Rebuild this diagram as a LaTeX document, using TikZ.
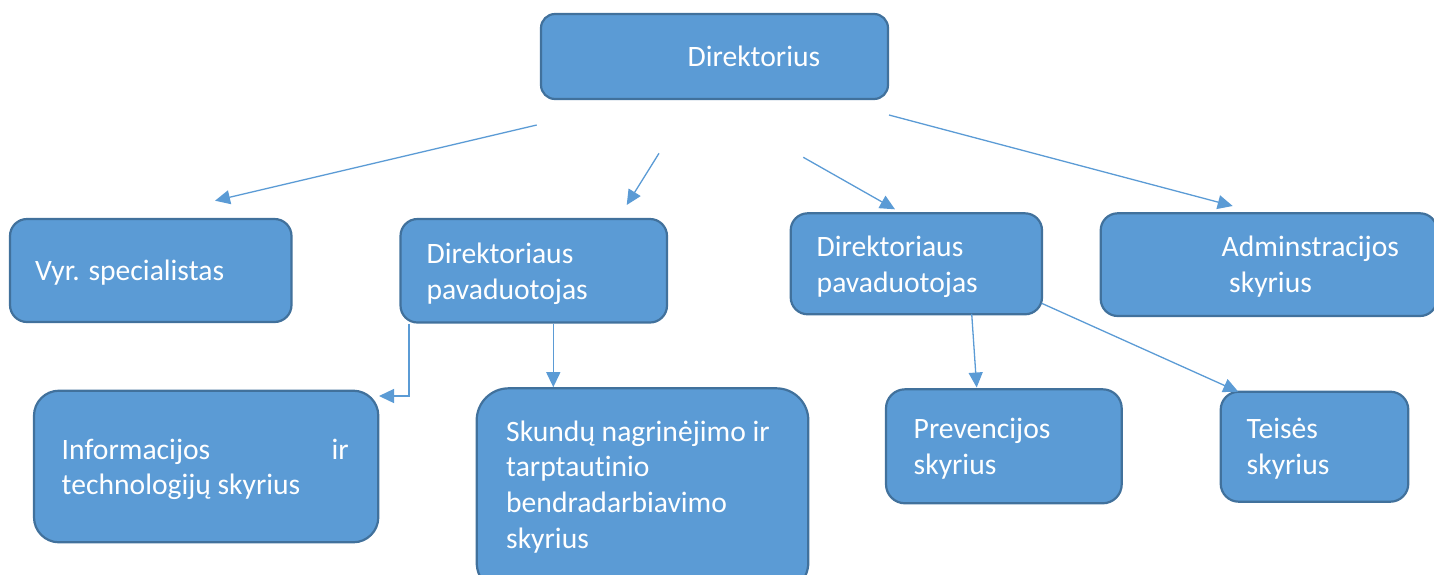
\documentclass[tikz,border=0pt]{standalone}
\usepackage{fontspec}
\setmainfont{Carlito}[Ligatures={NoCommon}]
\usetikzlibrary{arrows.meta}
\definecolor{boxfill}{HTML}{5B9BD5}
\definecolor{boxline}{HTML}{41719C}
\definecolor{arrowc}{HTML}{5B9BD5}
\begin{document}
\begin{tikzpicture}[x=1pt,y=-1pt,
  box/.style={draw=boxline, fill=boxfill, line width=2.2pt, inner sep=0pt},
  lbl/.style={anchor=base west, inner sep=0pt, text=white, font=\fontsize{29.6}{35.7}\selectfont},
  conn/.style={draw=arrowc, line width=1.3pt, -{Triangle[length=15pt,width=14pt]}}]
\useasboundingbox (0,0) rectangle (1434,574);
% boxes
\node[box, minimum width=347pt, minimum height=85pt, rounded corners=14pt] (dir) at (714.5,56.5) {};
\node[box, minimum width=281.5pt, minimum height=103pt, rounded corners=17pt] (vyr) at (150.75,270.5) {};
\node[box, minimum width=266.5pt, minimum height=103.5pt, rounded corners=17pt] (dp1) at (533.75,270.75) {};
\node[box, minimum width=251.3pt, minimum height=101pt, rounded corners=17pt] (dp2) at (916.35,263.8) {};
\node[box, minimum width=336.3pt, minimum height=102.7pt, rounded corners=17pt] (adm) at (1268.85,264.65) {};
\node[box, minimum width=344.3pt, minimum height=151.6pt, rounded corners=25pt] (info) at (206.15,466.5) {};
\node[box, minimum width=331.6pt, minimum height=206pt, rounded corners=32pt] (sk) at (642.5,491.3) {};
\node[box, minimum width=235.7pt, minimum height=114pt, rounded corners=19pt] (prev) at (1003.85,446.3) {};
\node[box, minimum width=187.6pt, minimum height=110pt, rounded corners=18pt] (teis) at (1314.5,446.7) {};
% labels
\node[lbl] (tdir) at (687.5,66) {Direktorius};
\node[lbl] (tvyr) at (35,280.5) {Vyr. specialistas};
\node[lbl] (tdp1) at (426.5,263.5) {\begin{tabular}[t]{@{}l@{}}Direktoriaus\\pavaduotojas\end{tabular}};
\node[lbl] (tdp2) at (816.5,256.7) {\begin{tabular}[t]{@{}l@{}}Direktoriaus\\pavaduotojas\end{tabular}};
\node[lbl] (tadm) at (1221.5,256.7) {\begin{tabular}[t]{@{}l@{}}Adminstracijos\\\hspace{7.5pt}skyrius\end{tabular}};
\node[lbl] (tinfo) at (61.5,459) {\begin{tabular}[t]{@{}l@{}}\makebox[287pt][l]{Informacijos\hfill ir}\\technologijų skyrius\end{tabular}};
\node[lbl] (tsk) at (506,441) {\begin{tabular}[t]{@{}l@{}}Skundų nagrinėjimo ir\\tarptautinio\\bendradarbiavimo\\skyrius\end{tabular}};
\node[lbl] (tprev) at (913.5,438.3) {\begin{tabular}[t]{@{}l@{}}Prevencijos\\skyrius\end{tabular}};
\node[lbl] (tteis) at (1246.5,438.3) {\begin{tabular}[t]{@{}l@{}}Teisės\\skyrius\end{tabular}};
% connector end points
\coordinate (a1s) at (536.7,125);
\coordinate (a1e) at (215,200.7);
\coordinate (a2s) at (659,153.3);
\coordinate (a2e) at (626.7,205);
\coordinate (a3s) at (803.3,157.3);
\coordinate (a3e) at (895,209.3);
\coordinate (a4s) at (889,115);
\coordinate (a4e) at (1232.7,206);
\coordinate (e1x) at (409,0);
\coordinate (e1e) at (379,396);
\coordinate (a6x) at (553.3,0);
\coordinate (a7s) at (971.7,313.8);
\coordinate (a7e) at (976.7,387.5);
\coordinate (a8s) at (1041.7,303.3);
\coordinate (a8e) at (1238.3,391.7);
% connectors
\draw[conn] (a1s) -- (a1e);
\draw[conn] (a2s) -- (a2e);
\draw[conn] (a3s) -- (a3e);
\draw[conn] (a4s) -- (a4e);
\draw[conn] (dp1.south -| e1x) |- (e1e);
\draw[conn] (dp1.south -| a6x) -- (sk.north -| a6x);
\draw[conn] (a7s) -- (a7e);
\draw[conn] (a8s) -- (a8e);
\end{tikzpicture}
\end{document}
